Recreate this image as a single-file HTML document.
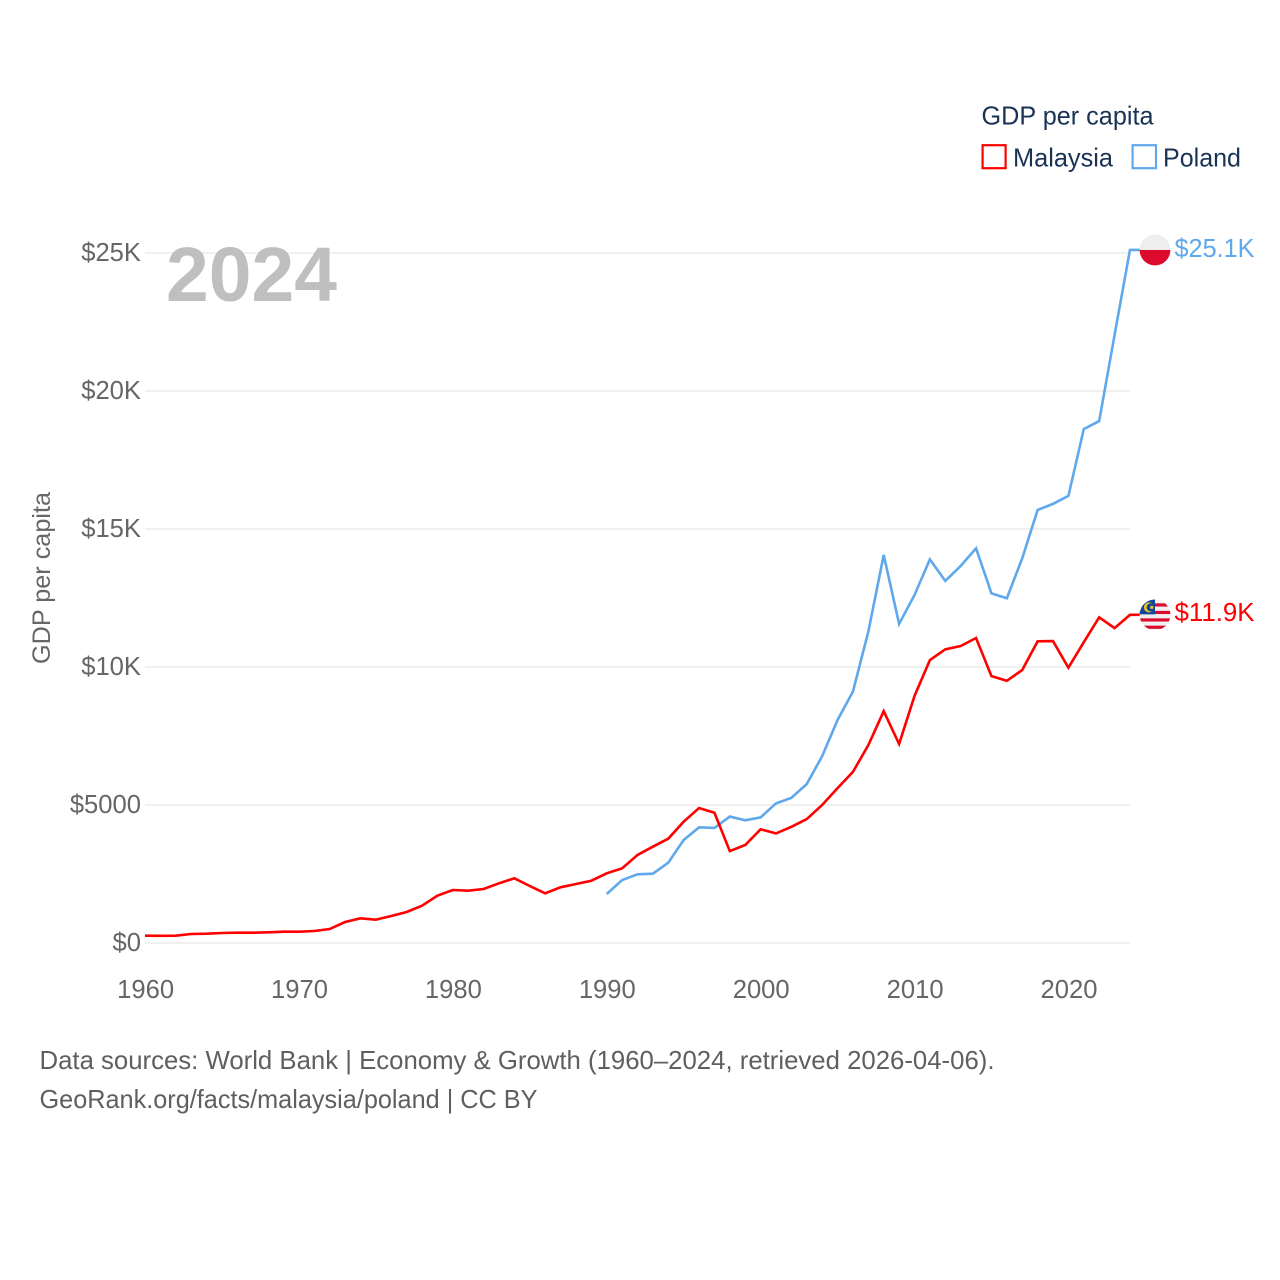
<!DOCTYPE html>
<html lang="en">
<head>
<meta charset="utf-8">
<title>GDP per capita: Malaysia and Poland</title>
<style>
html,body{margin:0;padding:0;background:#fff;}
body{width:1280px;height:1280px;overflow:hidden;}
svg{display:block;font-family:"Liberation Sans",sans-serif;}
</style>
</head>
<body>
<svg id="chart" width="1280" height="1280" viewBox="0 0 1280 1280" xmlns="http://www.w3.org/2000/svg">
  <defs>
    <clipPath id="flag-clip"><circle cx="0" cy="0" r="15.4"></circle></clipPath>
  </defs>
  <g id="grid"></g>
  <g id="y-ticks"></g>
  <g id="x-ticks"></g>
  <text x="166" y="301" font-size="77" font-weight="700" fill="#bfbfbf" textLength="171" lengthAdjust="spacingAndGlyphs">2024</text>
  <text transform="translate(50,578) rotate(-90)" text-anchor="middle" font-size="25" fill="#666666" textLength="172" lengthAdjust="spacingAndGlyphs">GDP per capita</text>
  <g id="series"></g>

  <g id="flag-poland">
    <g clip-path="url(#flag-clip)">
      <rect x="-16" y="-16" width="32" height="16" fill="#eeeeee"></rect>
      <rect x="-16" y="0" width="32" height="16" fill="#dc0a2d"></rect>
    </g>
  </g>
  <g id="flag-malaysia">
    <g clip-path="url(#flag-clip)">
      <rect x="-16" y="-16" width="32" height="32" fill="#f0f0f0"></rect>
      <rect x="-16" y="-11.5" width="32" height="3.2" fill="#dc0a2d"></rect>
      <rect x="-16" y="-4" width="32" height="3.2" fill="#dc0a2d"></rect>
      <rect x="-16" y="3.5" width="32" height="3.2" fill="#dc0a2d"></rect>
      <rect x="-16" y="10.8" width="32" height="3.2" fill="#dc0a2d"></rect>
      <rect x="-16" y="-16" width="16" height="15.5" fill="#10479c"></rect>
      <circle cx="-6" cy="-7.5" r="5" fill="#f5c518"></circle>
      <circle cx="-4.3" cy="-7.5" r="4.1" fill="#10479c"></circle>
      <circle cx="-3.2" cy="-7.5" r="1.6" fill="#f5c518"></circle>
    </g>
  </g>
  <text id="label-poland" x="1174.5" font-size="25.6" fill="#5fa8ec" textLength="80" lengthAdjust="spacingAndGlyphs"></text>
  <text id="label-malaysia" x="1174.5" font-size="25.6" fill="#ff0000" textLength="80" lengthAdjust="spacingAndGlyphs"></text>

  <g>
    <text x="981.5" y="124.5" font-size="25.6" fill="#1a3354" textLength="172" lengthAdjust="spacingAndGlyphs">GDP per capita</text>
    <g>
      <rect x="982.6" y="145.2" width="23" height="23" fill="#ffffff" stroke="#ff0000" stroke-width="2.2"></rect>
      <text x="1013" y="166.5" font-size="25.6" fill="#1a3354" textLength="100" lengthAdjust="spacingAndGlyphs">Malaysia</text>
    </g>
    <g>
      <rect x="1132.6" y="145.2" width="23.4" height="23" fill="#ffffff" stroke="#5fa8ec" stroke-width="2.2"></rect>
      <text x="1163" y="166.5" font-size="25.6" fill="#1a3354" textLength="78" lengthAdjust="spacingAndGlyphs">Poland</text>
    </g>
  </g>

  <text x="39.5" y="1069" font-size="25.6" fill="#5f5f5f" textLength="955" lengthAdjust="spacingAndGlyphs">Data sources: World Bank | Economy &amp; Growth (1960–2024, retrieved 2026-04-06).</text>
  <text x="39.5" y="1108" font-size="25.6" fill="#5f5f5f" textLength="498" lengthAdjust="spacingAndGlyphs">GeoRank.org/facts/malaysia/poland | CC BY</text>
</svg>
<script>
const malaysiaStartYear = 1960;
const malaysiaValues = [265,260,265,326,337,362,374,374,386,410,410,435,507,760,895,845,978,1123,1352,1714,1920,1895,1957,2163,2344,2065,1800,2018,2138,2257,2525,2706,3188,3490,3780,4395,4890,4720,3330,3550,4120,3970,4210,4490,5000,5610,6200,7170,8400,7210,8950,10250,10640,10760,11050,9670,9500,9890,10930,10940,9975,10900,11800,11410,11890];
const polandStartYear = 1990;
const polandValues = [1775,2280,2490,2510,2910,3730,4190,4170,4580,4445,4550,5060,5260,5760,6770,8080,9110,11280,14060,11560,12610,13900,13120,13660,14300,12670,12490,13940,15690,15910,16200,18620,18910,22030,25110];
const yTickValues = [0,5000,10000,15000,20000,25000];
const yTickLabels = ["$0","$5000","$10K","$15K","$20K","$25K"];
const xTickYears = [1960,1970,1980,1990,2000,2010,2020];
const endLabels = ["$25.1K","$11.9K"];

const NS = "http://www.w3.org/2000/svg";
const xScale = function (year) { return 145 + (year - 1960) * 15.39; };
const yScale = function (value) { return 943 - value * 0.0276; };

const gridLayer = document.getElementById("grid");
const yLayer = document.getElementById("y-ticks");
yTickValues.forEach(function (v, i) {
  const line = document.createElementNS(NS, "line");
  
  
  line.setAttribute("x1", xScale(1960));
  line.setAttribute("x2", xScale(2024));
  line.setAttribute("y1", yScale(v));
  line.setAttribute("y2", yScale(v));
  line.setAttribute("stroke", "#ebebeb");
  line.setAttribute("stroke-width", "1.5");
  gridLayer.appendChild(line);

  const label = document.createElementNS(NS, "text");
  
  
  label.setAttribute("x", 141);
  label.setAttribute("y", yScale(v) + 8);
  label.setAttribute("text-anchor", "end");
  label.setAttribute("font-size", "25.6");
  label.setAttribute("fill", "#666666");
  label.textContent = yTickLabels[i];
  yLayer.appendChild(label);
});

const xLayer = document.getElementById("x-ticks");
xTickYears.forEach(function (year) {
  const label = document.createElementNS(NS, "text");
  
  
  label.setAttribute("x", xScale(year) + 0.6);
  label.setAttribute("y", 998);
  label.setAttribute("text-anchor", "middle");
  label.setAttribute("font-size", "25.6");
  label.setAttribute("fill", "#666666");
  label.textContent = String(year);
  xLayer.appendChild(label);
});

function linePoints(values, startYear) {
  const pts = values.map(function (v, i) {
    return xScale(startYear + i).toFixed(2) + "," + yScale(v).toFixed(2);
  });
  const lastIndex = values.length - 1;
  pts.push((xScale(startYear + lastIndex) + 10).toFixed(2) + "," + yScale(values[lastIndex]).toFixed(2));
  return pts.join(" ");
}

const seriesLayer = document.getElementById("series");

const polandLine = document.createElementNS(NS, "polyline");


polandLine.setAttribute("points", linePoints(polandValues, polandStartYear));
polandLine.setAttribute("fill", "none");
polandLine.setAttribute("stroke", "#5fa8ec");
polandLine.setAttribute("stroke-width", "2.6");
polandLine.setAttribute("stroke-linejoin", "miter");
seriesLayer.appendChild(polandLine);

const malaysiaLine = document.createElementNS(NS, "polyline");


malaysiaLine.setAttribute("points", linePoints(malaysiaValues, malaysiaStartYear));
malaysiaLine.setAttribute("fill", "none");
malaysiaLine.setAttribute("stroke", "#ff0000");
malaysiaLine.setAttribute("stroke-width", "2.6");
malaysiaLine.setAttribute("stroke-linejoin", "miter");
seriesLayer.appendChild(malaysiaLine);

const polandEnd = yScale(polandValues[polandValues.length - 1]);
const malaysiaEnd = yScale(malaysiaValues[malaysiaValues.length - 1]);
document.getElementById("flag-poland").setAttribute("transform", "translate(1155," + polandEnd.toFixed(2) + ")");
document.getElementById("flag-malaysia").setAttribute("transform", "translate(1155," + malaysiaEnd.toFixed(2) + ")");
const polandLabel = document.getElementById("label-poland");
polandLabel.setAttribute("y", polandEnd + 7);
polandLabel.textContent = endLabels[0];
const malaysiaLabel = document.getElementById("label-malaysia");
malaysiaLabel.setAttribute("y", malaysiaEnd + 6);
malaysiaLabel.textContent = endLabels[1];
</script>
</body>
</html>
